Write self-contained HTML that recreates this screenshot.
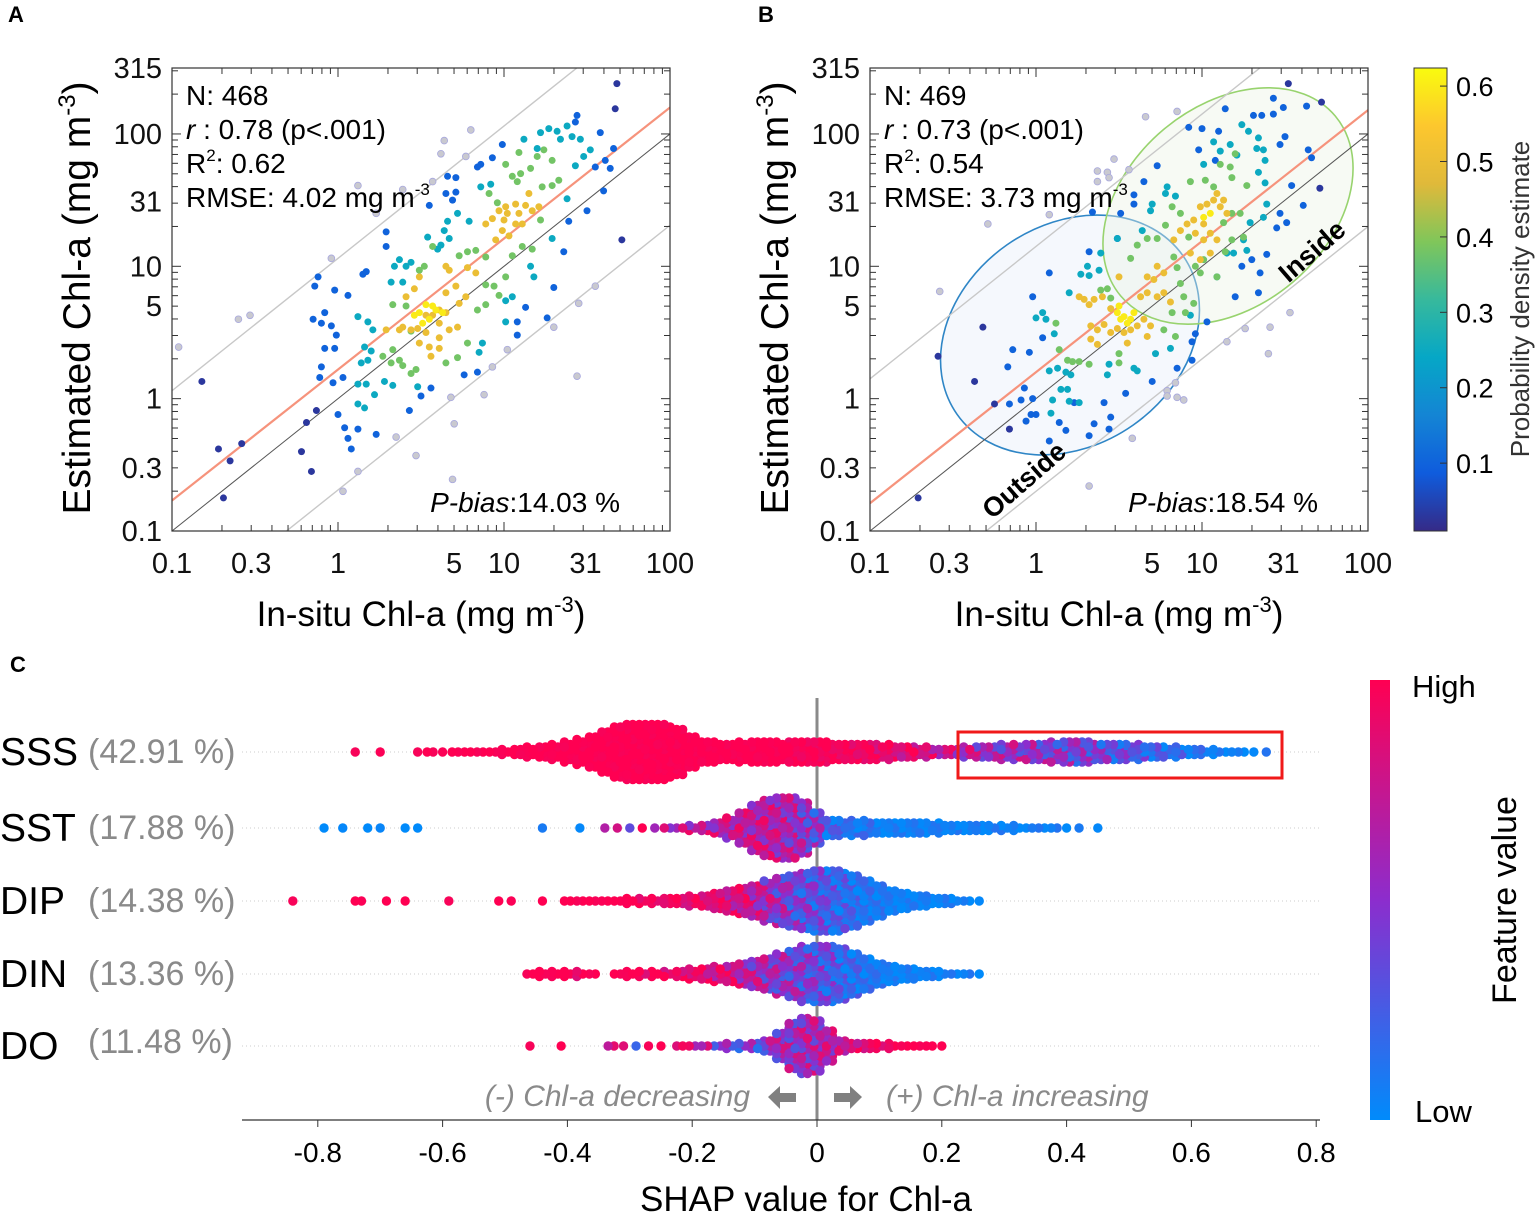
<!DOCTYPE html>
<html><head><meta charset="utf-8"><title>Chl-a figure</title>
<style>
html,body{margin:0;padding:0;background:#fff;}
svg{display:block;font-family:"Liberation Sans",Arial,sans-serif;}
</style></head>
<body>
<svg id="fig" width="1535" height="1214" viewBox="0 0 1535 1214" xmlns="http://www.w3.org/2000/svg">
<defs>
<linearGradient id="parula" x1="0" y1="1" x2="0" y2="0">
<stop offset="0" stop-color="#352a87"/><stop offset="0.125" stop-color="#0f5cdd"/><stop offset="0.25" stop-color="#1485d4"/><stop offset="0.375" stop-color="#06a7c6"/><stop offset="0.5" stop-color="#37b99c"/><stop offset="0.625" stop-color="#80c65a"/><stop offset="0.75" stop-color="#e0b93a"/><stop offset="0.875" stop-color="#fdc72e"/><stop offset="1" stop-color="#f9fb0e"/>
</linearGradient>
<linearGradient id="shapgrad" x1="0" y1="0" x2="0" y2="1">
<stop offset="0" stop-color="#ff0052"/><stop offset="0.5" stop-color="#8c2dcd"/><stop offset="1" stop-color="#008bfb"/>
</linearGradient>
</defs>
<g id="layer"></g>
</svg>
<script>
// ---------- Panel A data (log10 units: [log in-situ, log estimated] pairs) ----------
const densLevels=[0.03,0.1,0.25,0.38,0.5,0.6];
const aOut=[-0.96,0.39,-0.60,0.60,-0.53,0.63,-0.04,1.06,0.12,1.61,0.23,1.40,0.39,1.58,0.57,1.64,0.62,1.85,0.64,1.95,0.77,1.83,0.80,2.03,0.03,-0.70,0.12,-0.55,0.35,-0.29,0.47,-0.43,0.69,-0.61,0.70,-0.19,0.68,0.01,0.88,0.03,0.93,0.24,1.02,0.37,1.30,0.54,1.44,0.17,1.45,0.72,1.55,0.85];
const aD0=[-0.82,0.13,-0.72,-0.38,-0.65,-0.47,-0.58,-0.34,-0.69,-0.75,-0.22,-0.40,-0.16,-0.55,-0.19,-0.18,-0.13,-0.09,1.68,2.38,1.67,2.19,1.71,1.20];
const aD1=[-0.12,0.92,-0.14,0.85,-0.15,0.60,-0.08,0.65,-0.10,0.57,-0.04,0.55,-0.01,0.48,-0.08,0.38,-0.02,0.38,-0.10,0.24,-0.11,0.16,-0.03,0.12,0.03,0.16,0.00,-0.12,0.04,-0.22,0.06,-0.30,0.08,-0.38,0.12,-0.23,0.23,-0.27,0.43,-0.09,0.50,0.02,0.56,0.08,-0.02,0.82,0.06,0.78,0.15,0.94,0.17,0.96,0.29,1.26,0.29,1.15,0.66,1.68,0.71,1.67,0.65,1.55,0.71,1.56,0.69,1.50,0.55,1.46,0.84,1.75,0.86,1.77,0.93,1.82,0.99,1.92,1.44,2.14,1.43,2.09,1.58,2.01,1.60,1.57,1.50,1.42,1.39,1.34,1.36,1.11,1.30,0.84,1.26,0.61,1.08,0.58,1.08,0.48,1.13,0.69,1.66,1.89,1.64,1.74,1.55,1.75,1.61,1.80,0.84,0.20,0.76,0.18];
const aD2=[0.12,0.62,0.18,0.58,0.21,0.52,0.16,0.39,0.20,0.36,0.14,0.27,0.18,0.29,0.12,0.11,0.17,0.11,0.22,0.03,0.12,-0.04,0.16,-0.07,0.34,1.00,0.37,1.05,0.41,1.00,0.44,1.03,0.32,0.88,0.39,0.88,0.54,1.22,0.60,1.13,0.62,1.16,0.67,1.21,0.64,1.27,0.66,1.34,0.72,1.40,0.79,1.34,0.86,1.60,0.92,1.62,1.22,2.01,1.27,2.04,1.32,2.02,1.38,2.06,1.41,1.98,1.46,1.96,1.43,1.76,1.38,1.51,1.29,1.21,1.16,1.00,1.18,0.92,1.01,0.74,1.01,0.58,1.05,0.77,0.87,0.42,0.85,0.35,0.48,0.09,0.33,0.10,0.28,0.13,1.12,1.96,1.20,1.89,1.34,1.96,1.48,1.83,1.52,1.88];
const aD3=[0.27,0.32,0.32,0.27,0.37,0.29,0.39,0.25,0.33,0.37,0.44,0.19,0.47,0.22,0.44,0.51,0.33,0.71,0.41,0.70,0.49,0.97,0.52,1.00,0.57,1.15,0.73,1.08,0.78,1.11,0.83,1.12,0.89,1.07,0.94,0.85,0.97,0.78,0.89,0.71,0.84,0.67,0.65,0.27,0.72,0.31,0.78,0.42,0.91,1.55,0.96,1.48,1.01,1.77,1.05,1.68,1.10,1.70,1.08,1.64,1.16,1.74,1.20,1.83,1.24,1.88,1.29,1.80,1.23,1.60,1.29,1.61,1.33,1.65,1.11,1.15,1.17,1.13,1.22,1.35,1.05,1.08,1.01,0.92,0.89,0.86,1.09,1.86];
const aD4=[0.41,0.77,0.46,0.83,0.49,0.92,0.53,0.63,0.57,0.63,0.61,0.67,0.65,0.65,0.39,0.54,0.44,0.52,0.48,0.53,0.53,0.50,0.61,0.57,0.49,0.42,0.55,0.39,0.61,0.46,0.67,0.52,0.72,0.54,0.65,0.80,0.71,0.85,0.77,0.77,0.73,0.72,0.78,0.99,0.83,0.95,0.67,0.97,0.65,1.00,0.29,0.52,0.37,0.52,0.89,1.32,0.93,1.36,0.97,1.42,1.01,1.45,1.02,1.40,1.07,1.47,1.09,1.40,1.11,1.32,1.07,1.32,0.99,1.27,1.03,1.23,1.13,1.46,1.17,1.42,1.21,1.45,1.15,1.55,0.95,1.20,1.00,1.35,0.61,0.38,0.56,0.32];
const aD5=[0.49,0.65,0.53,0.71,0.57,0.70,0.55,0.60,0.59,0.67,0.51,0.57,0.63,0.65,0.46,0.63];
// ---------- Panel B data ----------
const bOut=[-0.58,0.81,-0.29,1.32,0.08,1.39,0.37,1.72,0.37,1.64,0.43,1.71,0.44,1.67,0.47,1.81,0.56,1.73,0.66,2.13,0.85,2.17,0.79,0.06,0.79,0.02,0.84,0.12,0.85,0.01,0.89,-0.01,0.58,-0.30,0.32,-0.66,1.15,0.43,1.26,0.53,1.41,0.54,1.40,0.34,1.53,0.65];
const bD0=[-0.71,-0.75,-0.59,0.32,-0.37,0.13,-0.32,0.54,-0.25,-0.04,-0.16,-0.23,1.52,2.38,1.72,2.24,1.71,1.59];
const bD1=[-0.17,0.24,-0.14,0.37,-0.02,0.77,0.08,0.95,-0.16,-0.04,-0.06,-0.17,0.00,-0.12,-0.02,0.00,-0.07,0.08,-0.09,-0.01,0.08,-0.32,0.14,-0.18,0.18,-0.24,0.23,-0.03,0.32,-0.28,0.35,-0.19,0.44,-0.23,0.45,-0.14,0.41,-0.03,0.54,0.04,0.70,0.13,-0.03,-0.12,0.04,0.46,-0.04,0.35,0.32,1.11,0.49,1.21,0.51,1.40,0.34,1.41,0.59,1.54,0.59,1.47,0.65,1.64,0.73,1.76,0.92,2.05,1.00,2.04,1.10,2.02,1.14,2.19,1.43,2.27,1.49,2.20,1.63,2.21,1.31,2.14,1.36,2.14,1.43,2.15,1.50,1.98,1.47,1.92,1.64,1.88,1.66,1.82,1.54,1.61,1.61,1.46,1.47,1.40,1.51,1.33,1.45,1.29,1.39,1.09,1.35,0.95,1.30,1.05,1.34,0.80,1.20,0.77,1.03,0.58,0.94,0.43,0.96,0.49,0.94,0.29,0.85,0.23,1.24,1.00,1.08,1.80,0.98,1.88];
const bD2=[0.04,0.65,0.06,0.60,0.00,0.61,0.11,0.49,0.08,0.21,0.13,0.23,0.18,0.20,0.21,0.18,0.15,0.07,0.19,0.07,0.10,-0.01,0.20,-0.02,0.26,-0.03,0.09,-0.11,0.31,1.00,0.32,0.93,0.27,0.94,0.38,0.97,0.20,0.80,0.44,0.26,0.43,0.18,0.59,0.23,0.61,0.21,0.72,0.34,0.81,0.38,0.93,0.63,0.64,1.27,0.69,1.42,0.70,1.47,0.78,1.55,0.79,1.60,0.84,1.53,1.01,1.77,1.07,1.94,1.11,1.87,1.17,1.92,1.21,1.84,1.24,2.07,1.28,2.02,1.34,1.97,1.33,1.89,1.37,1.88,1.38,1.80,1.34,1.71,1.38,1.63,1.39,1.47,1.37,1.37,1.29,1.33,1.27,1.12,1.19,1.10,1.15,1.10,1.09,0.92,1.25,1.20,0.49,1.21,0.39,1.10];
const bD3=[0.12,0.57,0.14,0.37,0.19,0.29,0.22,0.28,0.26,0.28,0.32,0.26,0.39,0.82,0.43,0.83,0.45,0.76,0.57,1.06,0.61,1.16,0.67,1.21,0.73,1.21,0.83,1.07,0.85,0.99,0.87,0.87,0.89,0.77,0.95,0.72,0.90,0.65,0.82,0.65,0.77,0.52,0.84,0.47,0.50,0.34,0.50,0.27,0.96,1.00,0.99,0.95,1.01,1.05,1.09,0.92,1.14,1.11,1.18,1.20,1.25,1.22,1.23,1.40,1.18,1.40,1.13,1.33,1.18,1.67,1.17,1.75,1.20,1.85,1.27,1.61,0.93,1.64,1.02,1.65,1.07,1.60,1.11,1.77,0.82,1.45,0.87,1.40,0.92,1.22,0.78,1.31];
const bD4=[0.26,0.77,0.29,0.75,0.32,0.71,0.35,0.75,0.40,0.77,0.45,0.68,0.50,0.92,0.33,0.55,0.37,0.52,0.41,0.56,0.45,0.50,0.49,0.53,0.53,0.50,0.57,0.52,0.61,0.55,0.65,0.60,0.69,0.55,0.67,0.47,0.55,0.42,0.37,0.41,0.33,0.45,0.63,0.77,0.67,0.80,0.73,0.77,0.77,0.80,0.81,0.73,0.71,0.90,0.67,0.92,0.73,1.00,0.77,0.95,0.83,1.20,0.87,1.27,0.91,1.32,0.95,1.35,0.99,1.45,1.03,1.47,1.07,1.50,1.11,1.45,1.01,1.32,0.96,1.25,1.01,1.20,1.05,1.25,1.09,1.20,1.13,1.50,1.15,1.40,0.93,1.10,0.99,1.05,1.05,1.10,1.09,1.55];
const bD5=[0.49,0.65,0.53,0.62,0.55,0.57,0.51,0.60,0.57,0.60,0.59,0.65,0.50,0.70,1.01,1.37,1.05,1.40];
const fitA=[0.99,0.22], fitB=[0.99,0.20];
const bandA=[1.06,-0.69], bandB=[1.15,-0.70];
const xTicks=[0.1,0.3,1,5,10,31,100];
const yTicks=[0.1,0.3,1,5,10,31,100,315];
const cbTicks=[0.1,0.2,0.3,0.4,0.5,0.6];

// ---------- Panel C data (SHAP bins) ----------
const features=["SSS","SST","DIP","DIN","DO"];
const importances=["(42.91 %)","(17.88 %)","(14.38 %)","(13.36 %)","(11.48 %)"];
const sssX=[-0.74,-0.72,-0.70,-0.68,-0.66,-0.64,-0.62,-0.60,-0.58,-0.56,-0.54,-0.52,-0.50,-0.48,-0.46,-0.44,-0.42,-0.40,-0.38,-0.36,-0.34,-0.32,-0.30,-0.28,-0.26,-0.24,-0.22,-0.20,-0.18,-0.16,-0.14,-0.12,-0.10,-0.08,-0.06,-0.04,-0.02,0,0.02,0.04,0.06,0.08,0.10,0.12,0.14,0.16,0.18,0.20,0.22,0.24,0.26,0.28,0.30,0.32,0.34,0.36,0.38,0.40,0.42,0.44,0.46,0.48,0.50,0.52,0.54,0.56,0.58,0.60,0.62,0.64,0.66,0.68,0.70,0.72];
const sssN=[1,0,1,0,0,1,2,1,2,2,2,2,3,4,5,6,7,9,11,14,18,22,24,24,24,23,20,14,10,9,8,9,10,10,9,10,10,10,9,8,8,8,7,7,6,5,5,4,4,5,6,6,7,7,8,8,9,10,10,9,8,8,7,7,6,5,5,4,3,3,2,2,1,1];
const sssF=[1,1,1,1,1,1,1,1,1,1,1,1,1,1,1,1,1,1,1,1,1,1,1,1,1,1,1,1,1,1,1,1,1,1,1,0.98,0.98,0.97,0.97,0.96,0.95,0.95,0.9,0.9,0.85,0.85,0.8,0.75,0.7,0.65,0.6,0.6,0.55,0.55,0.5,0.5,0.45,0.45,0.4,0.4,0.35,0.3,0.3,0.25,0.2,0.2,0.15,0.1,0.1,0.05,0.05,0.05,0.05,0.05];
const sstX=[-0.79,-0.76,-0.72,-0.70,-0.66,-0.64,-0.44,-0.38,-0.34,-0.32,-0.30,-0.28,-0.26,-0.24,-0.22,-0.20,-0.18,-0.16,-0.14,-0.12,-0.10,-0.08,-0.06,-0.04,-0.02,0,0.02,0.04,0.06,0.08,0.10,0.12,0.14,0.16,0.18,0.20,0.22,0.24,0.26,0.28,0.30,0.32,0.34,0.36,0.38,0.40,0.42,0.45];
const sstN=[1,1,1,1,1,1,1,1,1,1,1,1,1,2,2,3,4,6,9,14,20,24,26,26,22,14,8,7,7,7,6,6,6,6,5,5,4,4,4,3,3,3,2,2,2,1,1,1];
const sstF=[0,0,0,0,0,0,0.05,0.05,0.4,0.8,0.6,1,0.7,0.6,0.6,0.7,0.7,0.7,0.7,0.7,0.7,0.7,0.65,0.6,0.5,0.4,0.2,0.15,0.1,0.1,0.05,0.05,0.05,0.05,0.05,0.05,0.05,0.05,0.05,0.05,0.05,0.05,0.05,0.05,0.05,0.05,0.05,0.05];
const dipX=[-0.84,-0.74,-0.73,-0.69,-0.66,-0.59,-0.51,-0.49,-0.44,-0.40,-0.38,-0.36,-0.34,-0.32,-0.30,-0.28,-0.26,-0.24,-0.22,-0.20,-0.18,-0.16,-0.14,-0.12,-0.10,-0.08,-0.06,-0.04,-0.02,0,0.02,0.04,0.06,0.08,0.10,0.12,0.14,0.16,0.18,0.20,0.22,0.24,0.26];
const dipN=[1,1,1,1,1,1,1,1,1,2,2,2,2,2,3,3,3,4,4,5,6,8,10,12,14,17,20,22,24,26,26,25,22,18,14,10,8,6,5,4,3,2,1];
const dipF=[1,1,1,1,1,1,1,1,1,1,1,1,1,1,1,0.95,0.95,0.95,0.9,0.9,0.9,0.9,0.8,0.8,0.7,0.6,0.5,0.4,0.35,0.3,0.25,0.2,0.15,0.1,0.08,0.06,0.05,0.05,0.05,0.05,0.05,0.05,0.05];
const dinX=[-0.46,-0.44,-0.42,-0.40,-0.38,-0.36,-0.32,-0.30,-0.28,-0.26,-0.24,-0.22,-0.20,-0.18,-0.16,-0.14,-0.12,-0.10,-0.08,-0.06,-0.04,-0.02,0,0.02,0.04,0.06,0.08,0.10,0.12,0.14,0.16,0.18,0.20,0.22,0.24,0.26];
const dinN=[2,3,3,3,3,2,2,3,3,3,3,4,5,6,7,8,10,12,14,17,20,23,24,24,22,18,14,10,8,6,5,4,3,2,2,1];
const dinF=[1,1,1,1,0.9,1,1,1,0.9,1,0.9,0.9,0.9,0.85,0.8,0.8,0.7,0.6,0.55,0.5,0.45,0.4,0.35,0.3,0.2,0.15,0.1,0.08,0.05,0.05,0.05,0.05,0.05,0.05,0.05,0.05];
const doX=[-0.46,-0.41,-0.33,-0.31,-0.29,-0.27,-0.25,-0.22,-0.20,-0.18,-0.16,-0.14,-0.12,-0.10,-0.08,-0.06,-0.04,-0.02,0,0.02,0.04,0.06,0.08,0.10,0.12,0.14,0.16,0.18,0.20];
const doN=[1,1,2,1,1,1,1,2,2,2,2,3,3,4,6,12,20,24,22,14,6,4,4,3,3,2,2,2,1];
const doF=[1,1,0.8,0.6,0.2,1,1,0.9,0.7,0.6,0.5,0.5,0.4,0.4,0.5,0.55,0.55,0.6,0.6,0.65,0.8,0.85,0.9,0.9,0.95,1,1,1,1];
const shapTicks=[-0.8,-0.6,-0.4,-0.2,0,0.2,0.4,0.6,0.8];

// ---------- helpers ----------
const NS="http://www.w3.org/2000/svg";
const layer=document.getElementById('layer');
function mk(tag,attrs,parent,txt){const e=document.createElementNS(NS,tag);for(const k in attrs)e.setAttribute(k,attrs[k]);if(txt!==undefined)e.textContent=txt;(parent||layer).appendChild(e);return e;}
function lerp(a,b,t){return a+(b-a)*t;}
function hex(c){return [parseInt(c.slice(1,3),16),parseInt(c.slice(3,5),16),parseInt(c.slice(5,7),16)];}
const parStops=["#352a87","#0f5cdd","#1485d4","#06a7c6","#37b99c","#80c65a","#e0b93a","#fdc72e","#f9fb0e"];
const cbMin=0.01,cbMax=0.624;
function parula(v){let t=(v-cbMin)/(cbMax-cbMin);t=Math.max(0,Math.min(1,t));const s=t*(parStops.length-1);const i=Math.min(parStops.length-2,Math.floor(s));const f=s-i;const a=hex(parStops[i]),b=hex(parStops[i+1]);return `rgb(${Math.round(lerp(a[0],b[0],f))},${Math.round(lerp(a[1],b[1],f))},${Math.round(lerp(a[2],b[2],f))})`;}
function shapColor(f){f=Math.max(0,Math.min(1,f));const lo=[0,138,251],mid=[140,45,205],hi=[255,0,82];let a,b,t;if(f<0.5){a=lo;b=mid;t=f/0.5;}else{a=mid;b=hi;t=(f-0.5)/0.5;}return `rgb(${Math.round(lerp(a[0],b[0],t))},${Math.round(lerp(a[1],b[1],t))},${Math.round(lerp(a[2],b[2],t))})`;}

// ---------- scatter panel ----------
function panel(o){
  const L=o.x0,R=o.x0+498,T=68,B=531;
  const xs=l=>L+(l+1)*166;
  const ys=l=>B-(l+1)*(463/Math.log10(3150));
  const g=mk('g',{});
  
  
  const clipId='clip'+o.key;
  const cp=mk('clipPath',{id:clipId},g);mk('rect',{x:L,y:T,width:498,height:463},cp);
  const inner=mk('g',{'clip-path':`url(#${clipId})`},g);
  if(o.ellipses){
    for(const e of o.ellipses){
      const el=mk('ellipse',{cx:e.cx,cy:e.cy,rx:e.rx,ry:e.ry,transform:`rotate(${e.rot} ${e.cx} ${e.cy})`,fill:e.fill,stroke:e.stroke,'stroke-width':1.6},inner);
      
      
    }
  }
  function line(slope,ic,stroke,w,name){
    const l=mk('line',{x1:xs(-1),y1:ys(slope*-1+ic),x2:xs(2),y2:ys(slope*2+ic),stroke:stroke,'stroke-width':w},inner);
    
    
  }
  line(1,o.band[0],'#c8c8c8',1.4,'upper-error-band');
  line(1,o.band[1],'#c8c8c8',1.4,'lower-error-band');
  line(1,0,'#555',1,'one-to-one-line');
  line(o.fit[0],o.fit[1],'#f6937c',2.2,'regression-line');
  for(let i=0;i<o.out.length;i+=2){
    const c=mk('circle',{cx:xs(o.out[i]),cy:ys(o.out[i+1]),r:3.4,fill:'#c9c9cf',stroke:'#a8a8de','stroke-width':0.8},inner);
    
    
  }
  o.groups.forEach((arr,gi)=>{
    const col=parula(densLevels[gi]);
    for(let i=0;i<arr.length;i+=2){
      const c=mk('circle',{cx:xs(arr[i]),cy:ys(arr[i+1]),r:3.5,fill:col},inner);
      
      
    }
  });
  mk('rect',{x:L,y:T,width:498,height:463,fill:'none',stroke:'#333','stroke-width':1.2},g);
  for(let d=-1;d<=2;d++){for(let k=1;k<=9;k++){
    const lv=d+Math.log10(k);
    if(lv<=2.0001){const x=xs(lv);const len=k===1?9:6;
      mk('line',{x1:x,y1:B,x2:x,y2:B-len,stroke:'#333','stroke-width':1},g);
      mk('line',{x1:x,y1:T,x2:x,y2:T+len,stroke:'#333','stroke-width':1},g);}
    if(lv<=Math.log10(315)){const y=ys(lv);const len=k===1?9:6;
      mk('line',{x1:L,y1:y,x2:L+len,y2:y,stroke:'#333','stroke-width':1},g);
      mk('line',{x1:R,y1:y,x2:R-len,y2:y,stroke:'#333','stroke-width':1},g);}
  }}
  xTicks.forEach(v=>{const t=mk('text',{x:xs(Math.log10(v)),y:573,'font-size':29,'text-anchor':'middle',fill:'#111'},g,String(v));
    
    });
  yTicks.forEach(v=>{const t=mk('text',{x:L-10,y:ys(Math.log10(v))+10,'font-size':29,'text-anchor':'end',fill:'#111'},g,String(v));
    
    });
  const t1=mk('text',{x:L+14,y:105,'font-size':28},g,'N: '+o.n);
  
  
  const t2=mk('text',{x:L+14,y:139,'font-size':28},g);
  
  
  mk('tspan',{'font-style':'italic'},t2,'r');mk('tspan',{},t2,' : '+o.r);
  const t3=mk('text',{x:L+14,y:173,'font-size':28},g);
  
  
  mk('tspan',{},t3,'R');mk('tspan',{'font-size':17,dy:-12},t3,'2');mk('tspan',{dy:12},t3,': '+o.r2);
  const t4=mk('text',{x:L+14,y:207,'font-size':28},g);
  
  
  mk('tspan',{},t4,'RMSE: '+o.rmse+' mg m');mk('tspan',{'font-size':17,dy:-12},t4,'-3');
  const t5=mk('text',{x:L+448,y:512,'font-size':28,'text-anchor':'end'},g);
  
  
  mk('tspan',{'font-style':'italic'},t5,'P-bias');mk('tspan',{},t5,':'+o.pbias+' %');
  const yt=mk('text',{x:0,y:0,'font-size':39,'text-anchor':'middle',transform:`translate(${L-82},298) rotate(-90)`},g);
  
  
  mk('tspan',{},yt,'Estimated Chl-a (mg m');mk('tspan',{'font-size':24,dy:-15},yt,'-3');mk('tspan',{dy:15},yt,')');
  const xt=mk('text',{x:L+249,y:626,'font-size':35,'text-anchor':'middle'},g);
  
  
  mk('tspan',{},xt,'In-situ Chl-a (mg m');mk('tspan',{'font-size':22,dy:-14},xt,'-3');mk('tspan',{dy:14},xt,')');
  return g;
}
panel({key:'A',name:'panel-a-scatter',x0:172,n:468,r:'0.78 (p<.001)',r2:'0.62',rmse:'4.02',pbias:'14.03',fit:fitA,band:bandA,out:aOut,groups:[aD0,aD1,aD2,aD3,aD4,aD5]});
panel({key:'B',name:'panel-b-scatter',x0:870,n:469,r:'0.73  (p<.001)',r2:'0.54',rmse:'3.73',pbias:'18.54',fit:fitB,band:bandB,out:bOut,groups:[bD0,bD1,bD2,bD3,bD4,bD5],
  ellipses:[{cx:1070,cy:335,rx:138,ry:110,rot:-35,fill:'rgba(225,235,248,0.35)',stroke:'#2f86c6',name:'outside-ellipse'},{cx:1228,cy:206,rx:140,ry:100,rot:-40,fill:'rgba(235,242,228,0.4)',stroke:'#98d36e',name:'inside-ellipse'}]});
{
 const a=mk('text',{x:0,y:0,'font-size':27,'font-weight':'bold',transform:'translate(1318,258) rotate(-41)','text-anchor':'middle'},layer,'Inside');
 
 
 const b=mk('text',{x:0,y:0,'font-size':27,'font-weight':'bold',transform:'translate(1030,487) rotate(-41)','text-anchor':'middle'},layer,'Outside');
 
 
}
[['A',8,22],['B',758,22],['C',10,672]].forEach(p=>{const t=mk('text',{x:p[1],y:p[2],'font-size':22,'font-weight':'bold'},layer,p[0]);
 
 });
{
 const g=mk('g',{});
 
 
 mk('rect',{x:1414,y:68,width:33,height:463,fill:'url(#parula)',stroke:'#333','stroke-width':1},g);
 const cy=v=>531-(v-cbMin)/(cbMax-cbMin)*463;
 cbTicks.forEach(v=>{const y=cy(v);mk('line',{x1:1447,y1:y,x2:1440,y2:y,stroke:'#333'},g);
  const t=mk('text',{x:1456,y:y+10,'font-size':27},g,v.toFixed(1));
  
  });
 const t=mk('text',{x:0,y:0,'font-size':26,fill:'#333','text-anchor':'middle',transform:'translate(1529,299) rotate(-90)'},g,'Probability density estimate');
 
 
}
// ---------- Panel C ----------
{
 const g=mk('g',{});
 
 
 const x0=817,ppu=624;
 const sx=v=>x0+v*ppu;
 const rowY=[752,828,901,974,1046];
 const rows=[[sssX,sssN,sssF],[sstX,sstN,sstF],[dipX,dipN,dipF],[dinX,dinN,dinF],[doX,doN,doF]];
 rowY.forEach((y,i)=>{
   mk('line',{x1:242,y1:y,x2:1320,y2:y,stroke:'#ccc','stroke-width':1,'stroke-dasharray':'1,3'},g);
   const t=mk('text',{x:0,y:y+13,'font-size':39},g,features[i]);
   
   
   const imp=mk('text',{x:88,y:y+11+(i===4?-4:0),'font-size':34,fill:'#8a8a8a'},g,importances[i]);
   
   
 });
 mk('line',{x1:x0,y1:698,x2:x0,y2:1120,stroke:'#8a8a8a','stroke-width':3},g);
 rows.forEach((r,ri)=>{
   const [bx,bn,bf]=r;const y0=rowY[ri];
   const dg=mk('g',{},g);
   
   
   const dots=[];
   bx.forEach((v,i)=>{
     const n=bn[i];if(!n)return;
     const cols=n>1?2:1;
     for(let c=0;c<cols;c++){
       const m=Math.ceil((n-c)/cols);
       for(let k=0;k<m;k++){
         const j=k*cols+c;
         const amp=0.12*(4*bf[i]*(1-bf[i])+0.12);
         const f=bf[i]+(((j*7+i*3)%5)-2)*amp;
         dots.push({x:sx(v)+(cols>1?(c?3:-3):0),y:y0+(k-(m-1)/2)*5,f:f,o:(j*13+i*5)%7});
       }
     }
   });
   dots.sort((a,b)=>a.o-b.o);
   dots.forEach(d=>{const c=mk('circle',{cx:d.x,cy:d.y,r:4.7,fill:shapColor(d.f)},dg);
     
     });
 });
 const box=mk('rect',{x:958,y:732,width:324,height:46,fill:'none',stroke:'#f01a1a','stroke-width':3},g);
 
 
 mk('line',{x1:242,y1:1120,x2:1320,y2:1120,stroke:'#333','stroke-width':1.3},g);
 shapTicks.forEach(v=>{mk('line',{x1:sx(v),y1:1120,x2:sx(v),y2:1127,stroke:'#333'},g);
   const t=mk('text',{x:sx(v),y:1162,'font-size':28,'text-anchor':'middle'},g,(v===0?'0':String(v)));
   
   });
 const xt=mk('text',{x:806,y:1211,'font-size':35,'text-anchor':'middle'},g,'SHAP value for Chl-a');
 
 
 const a1=mk('text',{x:750,y:1106,'font-size':30,'font-style':'italic',fill:'#8a8a8a','text-anchor':'end'},g,'(-) Chl-a decreasing');
 
 
 const a2=mk('text',{x:886,y:1106,'font-size':30,'font-style':'italic',fill:'#8a8a8a'},g,'(+) Chl-a increasing');
 
 
 const ar1=mk('path',{d:'M768 1097 L780 1086 L780 1093 L796 1093 L796 1102 L780 1102 L780 1109 Z',fill:'#808080'},g);
 
 
 const ar2=mk('path',{d:'M862 1097 L850 1086 L850 1093 L834 1093 L834 1102 L850 1102 L850 1109 Z',fill:'#808080'},g);
 
 
 const cb=mk('rect',{x:1370,y:680,width:20,height:440,fill:'url(#shapgrad)'},g);
 
 
 const hi=mk('text',{x:1412,y:697,'font-size':31},g,'High');
 
 
 const lo=mk('text',{x:1415,y:1122,'font-size':31},g,'Low');
 
 
 const fv=mk('text',{x:0,y:0,'font-size':34,'text-anchor':'middle',transform:'translate(1516,900) rotate(-90)'},g,'Feature value');
 
 
}
</script>
</body></html>
